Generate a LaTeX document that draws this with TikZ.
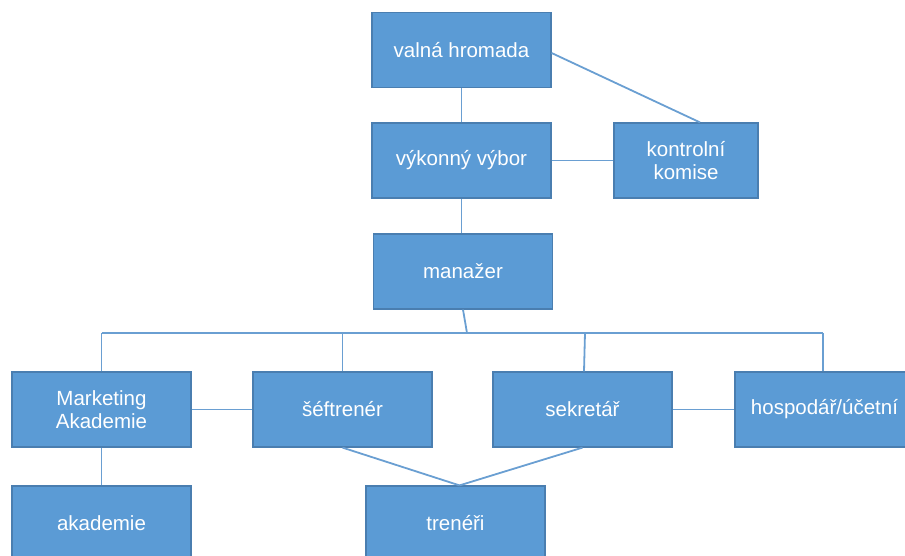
\documentclass[tikz,border=0pt]{standalone}
\usepackage{fontspec}
\setmainfont{Liberation Sans}
\definecolor{boxfill}{HTML}{5B9BD5}
\definecolor{boxedge}{HTML}{4A7EB0}
\definecolor{linecol}{HTML}{6A9FD2}
\begin{document}
\begin{tikzpicture}[x=1pt,y=-1pt,
  box/.style={draw=boxedge,line width=1.2pt,fill=boxfill,text=white,
    minimum width=179pt,minimum height=75pt,inner sep=2pt,align=center,
    font=\fontsize{20.5}{23}\selectfont},
  conn/.style={draw=linecol,line width=1.8pt}]
\useasboundingbox (0,0) rectangle (905,556);
\clip (0,0) rectangle (905,556);
\node[box] (vh) at (461.5,50) {valná hromada};
\node[box] (vv) at (461.5,160.5) {výkonný výbor};
\node[box,minimum width=144pt] (kk) at (686,160.5) {kontrolní\\komise};
\node[box] (man) at (463,271.5) {manažer};
\node[box] (ma) at (101.5,409.5) {Marketing\\Akademie};
\node[box] (sf) at (342.5,409.5) {šéftrenér};
\node[box] (sk) at (582.5,409.5) {sekretář};
\node[box] (hu) at (824.5,409.5) {hospodář/účetní};
\node[box] (ak) at (101.5,523.5) {akademie};
\node[box] (tr) at (455.5,523.5) {trenéři};
\coordinate (bl) at (101.5,333);
\coordinate (br) at (823,333);
\coordinate (bm) at (467,333);
\draw[conn] (vh.south) -- (vv.north);
\draw[conn] ([yshift=-3pt]vh.east) -- ([xshift=14pt]kk.north);
\draw[conn] (vv.east) -- (kk.west);
\draw[conn] (vv.south) -- (vv.south |- man.north);
\draw[conn] (man.south) -- (bm);
\draw[conn] (bl) -- (br);
\draw[conn] (ma.north) -- (bl);
\draw[conn] (sf.north) -- (sf.north |- bl);
\draw[conn] ([xshift=1.5pt]sk.north) -- ([xshift=2.5pt]sk.north |- bl);
\draw[conn] ([xshift=-1.5pt]hu.north) -- (br);
\draw[conn] (ma.east) -- (sf.west);
\draw[conn] (sk.east) -- (hu.west);
\draw[conn] (ma.south) -- (ak.north);
\draw[conn] (sf.south) -- ([xshift=4pt]tr.north);
\draw[conn] (sk.south) -- ([xshift=4pt]tr.north);
\end{tikzpicture}
\end{document}
